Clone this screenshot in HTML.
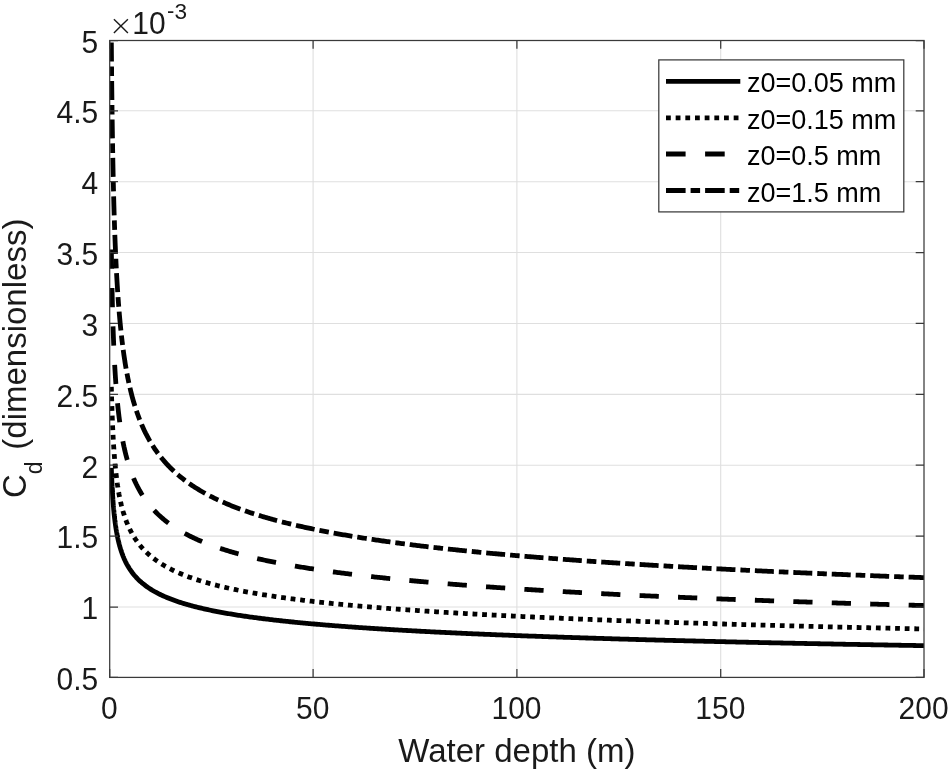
<!DOCTYPE html>
<html><head><meta charset="utf-8"><title>Cd vs water depth</title>
<style>html,body{margin:0;padding:0;background:#fff;}body{width:950px;height:772px;position:relative;overflow:hidden;}</style>
</head><body>
<svg width="950" height="772" viewBox="0 0 950 772" style="position:absolute;left:0;top:0">
<defs><clipPath id="ax"><rect x="109.7" y="39.9" width="814.30" height="637.50"/></clipPath></defs>
<path d="M313.10 40.50V677.40M516.90 40.50V677.40M720.70 40.50V677.40M109.70 607.01H924.00M109.70 536.12H924.00M109.70 465.23H924.00M109.70 394.34H924.00M109.70 323.46H924.00M109.70 252.57H924.00M109.70 181.68H924.00M109.70 110.79H924.00" stroke="#dfdfdf" stroke-width="1.1" fill="none"/>
<polyline clip-path="url(#ax)" points="111.34,467.84 111.35,468.31 111.37,468.78 111.39,469.25 111.40,469.71 111.42,470.18 111.43,470.64 111.45,471.10 111.47,471.56 111.48,472.02 111.50,472.48 111.52,472.94 111.54,473.40 111.55,473.85 111.57,474.31 111.59,474.76 111.61,475.21 111.62,475.66 111.64,476.11 111.66,476.56 111.68,477.01 111.70,477.45 111.71,477.90 111.73,478.34 111.75,478.79 111.77,479.23 111.79,479.67 111.81,480.11 111.83,480.55 111.85,480.99 111.87,481.42 111.89,481.86 111.91,482.29 111.93,482.73 111.95,483.16 111.97,483.59 111.99,484.02 112.01,484.45 112.03,484.88 112.05,485.31 112.07,485.73 112.09,486.16 112.12,486.58 112.14,487.00 112.16,487.43 112.18,487.85 112.20,488.27 112.23,488.69 112.25,489.10 112.27,489.52 112.30,489.94 112.32,490.35 112.34,490.77 112.37,491.18 112.39,491.59 112.41,492.00 112.44,492.41 112.46,492.82 112.49,493.23 112.51,493.64 112.53,494.04 112.56,494.45 112.59,494.85 112.61,495.26 112.64,495.66 112.66,496.06 112.69,496.46 112.71,496.86 112.74,497.26 112.77,497.65 112.79,498.05 112.82,498.45 112.85,498.84 112.88,499.24 112.90,499.63 112.93,500.02 112.96,500.41 112.99,500.80 113.02,501.19 113.04,501.58 113.07,501.97 113.10,502.35 113.13,502.74 113.16,503.12 113.19,503.51 113.22,503.89 113.25,504.27 113.28,504.65 113.31,505.03 113.34,505.41 113.38,505.79 113.41,506.17 113.44,506.54 113.47,506.92 113.50,507.29 113.54,507.67 113.57,508.04 113.60,508.41 113.63,508.78 113.67,509.16 113.70,509.53 113.74,509.89 113.77,510.26 113.80,510.63 113.84,511.00 113.87,511.36 113.91,511.73 113.95,512.09 113.98,512.45 114.02,512.81 114.05,513.18 114.09,513.54 114.13,513.90 114.17,514.25 114.20,514.61 114.24,514.97 114.28,515.33 114.32,515.68 114.36,516.04 114.40,516.39 114.44,516.74 114.47,517.09 114.51,517.45 114.56,517.80 114.60,518.15 114.64,518.50 114.68,518.84 114.72,519.19 114.76,519.54 114.80,519.88 114.85,520.23 114.89,520.57 114.93,520.92 114.98,521.26 115.02,521.60 115.06,521.94 115.11,522.28 115.15,522.62 115.20,522.96 115.24,523.30 115.29,523.64 115.34,523.97 115.38,524.31 115.43,524.65 115.48,524.98 115.53,525.31 115.57,525.65 115.62,525.98 115.67,526.31 115.72,526.64 115.77,526.97 115.82,527.30 115.87,527.63 115.92,527.96 115.97,528.28 116.02,528.61 116.08,528.94 116.13,529.26 116.18,529.58 116.23,529.91 116.29,530.23 116.34,530.55 116.40,530.87 116.45,531.19 116.51,531.51 116.56,531.83 116.62,532.15 116.67,532.47 116.73,532.79 116.79,533.10 116.85,533.42 116.91,533.73 116.96,534.05 117.02,534.36 117.08,534.67 117.14,534.99 117.20,535.30 117.26,535.61 117.33,535.92 117.39,536.23 117.45,536.54 117.51,536.85 117.58,537.15 117.64,537.46 117.71,537.77 117.77,538.07 117.84,538.38 117.90,538.68 117.97,538.98 118.04,539.29 118.10,539.59 118.17,539.89 118.24,540.19 118.31,540.49 118.38,540.79 118.45,541.09 118.52,541.39 118.59,541.69 118.66,541.98 118.74,542.28 118.81,542.58 118.88,542.87 118.96,543.17 119.03,543.46 119.11,543.75 119.18,544.05 119.26,544.34 119.33,544.63 119.41,544.92 119.49,545.21 119.57,545.50 119.65,545.79 119.73,546.08 119.81,546.36 119.89,546.65 119.97,546.94 120.06,547.22 120.14,547.51 120.22,547.79 120.31,548.08 120.39,548.36 120.48,548.64 120.56,548.92 120.65,549.21 120.74,549.49 120.83,549.77 120.92,550.05 121.01,550.33 121.10,550.61 121.19,550.88 121.28,551.16 121.37,551.44 121.47,551.71 121.56,551.99 121.65,552.27 121.75,552.54 121.85,552.81 121.94,553.09 122.04,553.36 122.14,553.63 122.24,553.90 122.34,554.18 122.44,554.45 122.54,554.72 122.64,554.99 122.75,555.25 122.85,555.52 122.95,555.79 123.06,556.06 123.17,556.32 123.27,556.59 123.38,556.86 123.49,557.12 123.60,557.39 123.71,557.65 123.82,557.91 123.93,558.18 124.05,558.44 124.16,558.70 124.28,558.96 124.39,559.22 124.51,559.48 124.63,559.74 124.75,560.00 124.86,560.26 124.99,560.52 125.11,560.77 125.23,561.03 125.35,561.29 125.48,561.54 125.60,561.80 125.73,562.05 125.85,562.31 125.98,562.56 126.11,562.81 126.24,563.07 126.37,563.32 126.50,563.57 126.64,563.82 126.77,564.07 126.91,564.32 127.04,564.57 127.18,564.82 127.32,565.07 127.46,565.32 127.60,565.57 127.74,565.81 127.88,566.06 128.02,566.31 128.17,566.55 128.32,566.80 128.46,567.04 128.61,567.29 128.76,567.53 128.91,567.77 129.06,568.02 129.21,568.26 129.37,568.50 129.52,568.74 129.68,568.98 131.01,570.94 132.33,572.75 133.66,574.43 134.99,576.00 136.31,577.47 137.64,578.86 138.97,580.16 140.30,581.40 141.62,582.57 142.95,583.68 144.28,584.74 145.60,585.75 146.93,586.71 148.26,587.63 149.58,588.52 150.91,589.36 152.24,590.18 153.56,590.96 154.89,591.72 156.22,592.45 157.55,593.15 158.87,593.83 160.20,594.49 161.53,595.13 162.85,595.75 164.18,596.34 165.51,596.93 166.83,597.49 168.16,598.04 169.49,598.57 170.81,599.09 172.14,599.59 173.47,600.09 174.79,600.57 176.12,601.03 177.45,601.49 178.78,601.94 180.10,602.37 181.43,602.80 182.76,603.21 184.08,603.62 185.41,604.02 186.74,604.41 188.06,604.79 189.39,605.16 190.72,605.53 192.04,605.88 193.37,606.24 194.70,606.58 196.03,606.92 197.35,607.25 198.68,607.58 200.01,607.90 201.33,608.21 202.66,608.52 203.99,608.82 205.31,609.12 206.64,609.41 207.97,609.70 209.29,609.98 210.62,610.26 211.95,610.54 213.28,610.81 214.60,611.07 215.93,611.34 217.26,611.59 218.58,611.85 219.91,612.10 221.24,612.34 222.56,612.59 223.89,612.83 225.22,613.06 226.54,613.30 227.87,613.53 229.20,613.75 230.53,613.98 231.85,614.20 233.18,614.41 234.51,614.63 235.83,614.84 237.16,615.05 238.49,615.26 239.81,615.46 241.14,615.66 242.47,615.86 243.79,616.06 245.12,616.25 246.45,616.44 247.78,616.63 249.10,616.82 250.43,617.01 251.76,617.19 253.08,617.37 254.41,617.55 255.74,617.73 257.06,617.90 258.39,618.08 259.72,618.25 261.04,618.42 262.37,618.58 263.70,618.75 265.02,618.91 266.35,619.08 267.68,619.24 269.01,619.40 270.33,619.55 271.66,619.71 272.99,619.87 274.31,620.02 275.64,620.17 276.97,620.32 278.29,620.47 279.62,620.62 280.95,620.76 282.27,620.91 283.60,621.05 284.93,621.19 286.26,621.33 287.58,621.47 288.91,621.61 290.24,621.74 291.56,621.88 292.89,622.01 294.22,622.15 295.54,622.28 296.87,622.41 298.20,622.54 299.52,622.67 300.85,622.80 302.18,622.92 303.51,623.05 304.83,623.17 306.16,623.29 307.49,623.42 308.81,623.54 310.14,623.66 311.47,623.78 312.79,623.90 314.12,624.01 315.45,624.13 316.77,624.25 318.10,624.36 319.43,624.47 320.76,624.59 322.08,624.70 323.41,624.81 324.74,624.92 326.06,625.03 327.39,625.14 328.72,625.25 330.04,625.35 331.37,625.46 332.70,625.57 334.02,625.67 335.35,625.78 336.68,625.88 338.01,625.98 339.33,626.08 340.66,626.18 341.99,626.29 343.31,626.39 344.64,626.48 345.97,626.58 347.29,626.68 348.62,626.78 349.95,626.87 351.27,626.97 352.60,627.07 353.93,627.16 355.25,627.25 356.58,627.35 357.91,627.44 359.24,627.53 360.56,627.62 361.89,627.71 363.22,627.80 364.54,627.89 365.87,627.98 367.20,628.07 368.52,628.16 369.85,628.25 371.18,628.34 372.50,628.42 373.83,628.51 375.16,628.59 376.49,628.68 377.81,628.76 379.14,628.85 380.47,628.93 381.79,629.01 383.12,629.10 384.45,629.18 385.77,629.26 387.10,629.34 388.43,629.42 389.75,629.50 391.08,629.58 392.41,629.66 393.74,629.74 395.06,629.82 396.39,629.89 397.72,629.97 399.04,630.05 400.37,630.13 401.70,630.20 403.02,630.28 404.35,630.35 405.68,630.43 407.00,630.50 408.33,630.58 409.66,630.65 410.99,630.72 412.31,630.80 413.64,630.87 414.97,630.94 416.29,631.01 417.62,631.08 418.95,631.15 420.27,631.23 421.60,631.30 422.93,631.37 424.25,631.44 425.58,631.50 426.91,631.57 428.24,631.64 429.56,631.71 430.89,631.78 432.22,631.85 433.54,631.91 434.87,631.98 436.20,632.05 437.52,632.11 438.85,632.18 440.18,632.24 441.50,632.31 442.83,632.37 444.16,632.44 445.48,632.50 446.81,632.57 448.14,632.63 449.47,632.69 450.79,632.76 452.12,632.82 453.45,632.88 454.77,632.94 456.10,633.01 457.43,633.07 458.75,633.13 460.08,633.19 461.41,633.25 462.73,633.31 464.06,633.37 465.39,633.43 466.72,633.49 468.04,633.55 469.37,633.61 470.70,633.67 472.02,633.73 473.35,633.78 474.68,633.84 476.00,633.90 477.33,633.96 478.66,634.02 479.98,634.07 481.31,634.13 482.64,634.19 483.97,634.24 485.29,634.30 486.62,634.35 487.95,634.41 489.27,634.47 490.60,634.52 491.93,634.58 493.25,634.63 494.58,634.69 495.91,634.74 497.23,634.79 498.56,634.85 499.89,634.90 501.22,634.95 502.54,635.01 503.87,635.06 505.20,635.11 506.52,635.17 507.85,635.22 509.18,635.27 510.50,635.32 511.83,635.37 513.16,635.43 514.48,635.48 515.81,635.53 517.14,635.58 518.47,635.63 519.79,635.68 521.12,635.73 522.45,635.78 523.77,635.83 525.10,635.88 526.43,635.93 527.75,635.98 529.08,636.03 530.41,636.08 531.73,636.13 533.06,636.17 534.39,636.22 535.71,636.27 537.04,636.32 538.37,636.37 539.70,636.41 541.02,636.46 542.35,636.51 543.68,636.56 545.00,636.60 546.33,636.65 547.66,636.70 548.98,636.74 550.31,636.79 551.64,636.84 552.96,636.88 554.29,636.93 555.62,636.97 556.95,637.02 558.27,637.06 559.60,637.11 560.93,637.15 562.25,637.20 563.58,637.24 564.91,637.29 566.23,637.33 567.56,637.38 568.89,637.42 570.21,637.46 571.54,637.51 572.87,637.55 574.20,637.59 575.52,637.64 576.85,637.68 578.18,637.72 579.50,637.77 580.83,637.81 582.16,637.85 583.48,637.89 584.81,637.94 586.14,637.98 587.46,638.02 588.79,638.06 590.12,638.10 591.45,638.15 592.77,638.19 594.10,638.23 595.43,638.27 596.75,638.31 598.08,638.35 599.41,638.39 600.73,638.43 602.06,638.47 603.39,638.51 604.71,638.55 606.04,638.59 607.37,638.63 608.70,638.67 610.02,638.71 611.35,638.75 612.68,638.79 614.00,638.83 615.33,638.87 616.66,638.91 617.98,638.95 619.31,638.99 620.64,639.03 621.96,639.07 623.29,639.10 624.62,639.14 625.94,639.18 627.27,639.22 628.60,639.26 629.93,639.29 631.25,639.33 632.58,639.37 633.91,639.41 635.23,639.44 636.56,639.48 637.89,639.52 639.21,639.56 640.54,639.59 641.87,639.63 643.19,639.67 644.52,639.70 645.85,639.74 647.18,639.78 648.50,639.81 649.83,639.85 651.16,639.89 652.48,639.92 653.81,639.96 655.14,639.99 656.46,640.03 657.79,640.06 659.12,640.10 660.44,640.14 661.77,640.17 663.10,640.21 664.43,640.24 665.75,640.28 667.08,640.31 668.41,640.35 669.73,640.38 671.06,640.41 672.39,640.45 673.71,640.48 675.04,640.52 676.37,640.55 677.69,640.59 679.02,640.62 680.35,640.65 681.68,640.69 683.00,640.72 684.33,640.76 685.66,640.79 686.98,640.82 688.31,640.86 689.64,640.89 690.96,640.92 692.29,640.95 693.62,640.99 694.94,641.02 696.27,641.05 697.60,641.09 698.93,641.12 700.25,641.15 701.58,641.18 702.91,641.22 704.23,641.25 705.56,641.28 706.89,641.31 708.21,641.34 709.54,641.38 710.87,641.41 712.19,641.44 713.52,641.47 714.85,641.50 716.17,641.53 717.50,641.57 718.83,641.60 720.16,641.63 721.48,641.66 722.81,641.69 724.14,641.72 725.46,641.75 726.79,641.78 728.12,641.81 729.44,641.85 730.77,641.88 732.10,641.91 733.42,641.94 734.75,641.97 736.08,642.00 737.41,642.03 738.73,642.06 740.06,642.09 741.39,642.12 742.71,642.15 744.04,642.18 745.37,642.21 746.69,642.24 748.02,642.27 749.35,642.30 750.67,642.33 752.00,642.36 753.33,642.38 754.66,642.41 755.98,642.44 757.31,642.47 758.64,642.50 759.96,642.53 761.29,642.56 762.62,642.59 763.94,642.62 765.27,642.65 766.60,642.67 767.92,642.70 769.25,642.73 770.58,642.76 771.91,642.79 773.23,642.82 774.56,642.84 775.89,642.87 777.21,642.90 778.54,642.93 779.87,642.96 781.19,642.98 782.52,643.01 783.85,643.04 785.17,643.07 786.50,643.10 787.83,643.12 789.16,643.15 790.48,643.18 791.81,643.21 793.14,643.23 794.46,643.26 795.79,643.29 797.12,643.31 798.44,643.34 799.77,643.37 801.10,643.40 802.42,643.42 803.75,643.45 805.08,643.48 806.40,643.50 807.73,643.53 809.06,643.56 810.39,643.58 811.71,643.61 813.04,643.63 814.37,643.66 815.69,643.69 817.02,643.71 818.35,643.74 819.67,643.77 821.00,643.79 822.33,643.82 823.65,643.84 824.98,643.87 826.31,643.90 827.64,643.92 828.96,643.95 830.29,643.97 831.62,644.00 832.94,644.02 834.27,644.05 835.60,644.07 836.92,644.10 838.25,644.12 839.58,644.15 840.90,644.17 842.23,644.20 843.56,644.23 844.89,644.25 846.21,644.28 847.54,644.30 848.87,644.32 850.19,644.35 851.52,644.37 852.85,644.40 854.17,644.42 855.50,644.45 856.83,644.47 858.15,644.50 859.48,644.52 860.81,644.55 862.14,644.57 863.46,644.59 864.79,644.62 866.12,644.64 867.44,644.67 868.77,644.69 870.10,644.72 871.42,644.74 872.75,644.76 874.08,644.79 875.40,644.81 876.73,644.83 878.06,644.86 879.39,644.88 880.71,644.91 882.04,644.93 883.37,644.95 884.69,644.98 886.02,645.00 887.35,645.02 888.67,645.05 890.00,645.07 891.33,645.09 892.65,645.12 893.98,645.14 895.31,645.16 896.63,645.19 897.96,645.21 899.29,645.23 900.62,645.25 901.94,645.28 903.27,645.30 904.60,645.32 905.92,645.35 907.25,645.37 908.58,645.39 909.90,645.41 911.23,645.44 912.56,645.46 913.88,645.48 915.21,645.50 916.54,645.53 917.87,645.55 919.19,645.57 920.52,645.59 921.85,645.61 923.17,645.64 924.50,645.66" fill="none" stroke="#000" stroke-width="4.8" stroke-linejoin="round"/>
<polyline clip-path="url(#ax)" points="111.34,386.59 111.35,387.28 111.37,387.96 111.39,388.64 111.40,389.32 111.42,390.00 111.43,390.68 111.45,391.35 111.47,392.03 111.48,392.70 111.50,393.37 111.52,394.04 111.54,394.70 111.55,395.37 111.57,396.03 111.59,396.69 111.61,397.35 111.62,398.00 111.64,398.66 111.66,399.31 111.68,399.96 111.70,400.61 111.71,401.26 111.73,401.90 111.75,402.55 111.77,403.19 111.79,403.83 111.81,404.47 111.83,405.10 111.85,405.74 111.87,406.37 111.89,407.00 111.91,407.63 111.93,408.26 111.95,408.89 111.97,409.51 111.99,410.13 112.01,410.75 112.03,411.37 112.05,411.99 112.07,412.61 112.09,413.22 112.12,413.83 112.14,414.44 112.16,415.05 112.18,415.66 112.20,416.27 112.23,416.87 112.25,417.47 112.27,418.07 112.30,418.67 112.32,419.27 112.34,419.87 112.37,420.46 112.39,421.05 112.41,421.64 112.44,422.23 112.46,422.82 112.49,423.41 112.51,423.99 112.53,424.58 112.56,425.16 112.59,425.74 112.61,426.32 112.64,426.89 112.66,427.47 112.69,428.04 112.71,428.61 112.74,429.19 112.77,429.75 112.79,430.32 112.82,430.89 112.85,431.45 112.88,432.02 112.90,432.58 112.93,433.14 112.96,433.70 112.99,434.25 113.02,434.81 113.04,435.36 113.07,435.92 113.10,436.47 113.13,437.02 113.16,437.57 113.19,438.11 113.22,438.66 113.25,439.20 113.28,439.75 113.31,440.29 113.34,440.83 113.38,441.37 113.41,441.90 113.44,442.44 113.47,442.97 113.50,443.51 113.54,444.04 113.57,444.57 113.60,445.10 113.63,445.62 113.67,446.15 113.70,446.67 113.74,447.20 113.77,447.72 113.80,448.24 113.84,448.76 113.87,449.28 113.91,449.79 113.95,450.31 113.98,450.82 114.02,451.33 114.05,451.85 114.09,452.36 114.13,452.86 114.17,453.37 114.20,453.88 114.24,454.38 114.28,454.89 114.32,455.39 114.36,455.89 114.40,456.39 114.44,456.89 114.47,457.38 114.51,457.88 114.56,458.37 114.60,458.87 114.64,459.36 114.68,459.85 114.72,460.34 114.76,460.83 114.80,461.31 114.85,461.80 114.89,462.28 114.93,462.77 114.98,463.25 115.02,463.73 115.06,464.21 115.11,464.69 115.15,465.16 115.20,465.64 115.24,466.11 115.29,466.59 115.34,467.06 115.38,467.53 115.43,468.00 115.48,468.47 115.53,468.94 115.57,469.40 115.62,469.87 115.67,470.33 115.72,470.80 115.77,471.26 115.82,471.72 115.87,472.18 115.92,472.64 115.97,473.09 116.02,473.55 116.08,474.01 116.13,474.46 116.18,474.91 116.23,475.36 116.29,475.81 116.34,476.26 116.40,476.71 116.45,477.16 116.51,477.61 116.56,478.05 116.62,478.49 116.67,478.94 116.73,479.38 116.79,479.82 116.85,480.26 116.91,480.70 116.96,481.14 117.02,481.57 117.08,482.01 117.14,482.44 117.20,482.87 117.26,483.31 117.33,483.74 117.39,484.17 117.45,484.60 117.51,485.02 117.58,485.45 117.64,485.88 117.71,486.30 117.77,486.73 117.84,487.15 117.90,487.57 117.97,487.99 118.04,488.41 118.10,488.83 118.17,489.25 118.24,489.66 118.31,490.08 118.38,490.49 118.45,490.91 118.52,491.32 118.59,491.73 118.66,492.14 118.74,492.55 118.81,492.96 118.88,493.37 118.96,493.78 119.03,494.18 119.11,494.59 119.18,494.99 119.26,495.39 119.33,495.79 119.41,496.20 119.49,496.60 119.57,496.99 119.65,497.39 119.73,497.79 119.81,498.19 119.89,498.58 119.97,498.98 120.06,499.37 120.14,499.76 120.22,500.15 120.31,500.54 120.39,500.93 120.48,501.32 120.56,501.71 120.65,502.10 120.74,502.48 120.83,502.87 120.92,503.25 121.01,503.64 121.10,504.02 121.19,504.40 121.28,504.78 121.37,505.16 121.47,505.54 121.56,505.92 121.65,506.30 121.75,506.67 121.85,507.05 121.94,507.42 122.04,507.80 122.14,508.17 122.24,508.54 122.34,508.91 122.44,509.28 122.54,509.65 122.64,510.02 122.75,510.39 122.85,510.75 122.95,511.12 123.06,511.49 123.17,511.85 123.27,512.21 123.38,512.58 123.49,512.94 123.60,513.30 123.71,513.66 123.82,514.02 123.93,514.38 124.05,514.73 124.16,515.09 124.28,515.45 124.39,515.80 124.51,516.16 124.63,516.51 124.75,516.86 124.86,517.21 124.99,517.57 125.11,517.92 125.23,518.27 125.35,518.61 125.48,518.96 125.60,519.31 125.73,519.66 125.85,520.00 125.98,520.35 126.11,520.69 126.24,521.03 126.37,521.38 126.50,521.72 126.64,522.06 126.77,522.40 126.91,522.74 127.04,523.08 127.18,523.42 127.32,523.75 127.46,524.09 127.60,524.42 127.74,524.76 127.88,525.09 128.02,525.43 128.17,525.76 128.32,526.09 128.46,526.42 128.61,526.75 128.76,527.08 128.91,527.41 129.06,527.74 129.21,528.07 129.37,528.39 129.52,528.72 129.68,529.05 131.01,531.68 132.33,534.12 133.66,536.39 134.99,538.50 136.31,540.47 137.64,542.33 138.97,544.08 140.30,545.73 141.62,547.29 142.95,548.77 144.28,550.18 145.60,551.52 146.93,552.81 148.26,554.03 149.58,555.21 150.91,556.33 152.24,557.41 153.56,558.45 154.89,559.45 156.22,560.42 157.55,561.35 158.87,562.25 160.20,563.12 161.53,563.96 162.85,564.77 164.18,565.56 165.51,566.33 166.83,567.07 168.16,567.79 169.49,568.49 170.81,569.17 172.14,569.84 173.47,570.48 174.79,571.11 176.12,571.73 177.45,572.33 178.78,572.91 180.10,573.48 181.43,574.04 182.76,574.58 184.08,575.11 185.41,575.63 186.74,576.14 188.06,576.64 189.39,577.13 190.72,577.61 192.04,578.07 193.37,578.53 194.70,578.98 196.03,579.42 197.35,579.86 198.68,580.28 200.01,580.70 201.33,581.11 202.66,581.51 203.99,581.90 205.31,582.29 206.64,582.67 207.97,583.05 209.29,583.42 210.62,583.78 211.95,584.14 213.28,584.49 214.60,584.83 215.93,585.17 217.26,585.51 218.58,585.84 219.91,586.16 221.24,586.48 222.56,586.80 223.89,587.11 225.22,587.41 226.54,587.72 227.87,588.01 229.20,588.31 230.53,588.60 231.85,588.88 233.18,589.16 234.51,589.44 235.83,589.72 237.16,589.99 238.49,590.25 239.81,590.52 241.14,590.78 242.47,591.04 243.79,591.29 245.12,591.54 246.45,591.79 247.78,592.04 249.10,592.28 250.43,592.52 251.76,592.75 253.08,592.99 254.41,593.22 255.74,593.45 257.06,593.67 258.39,593.90 259.72,594.12 261.04,594.34 262.37,594.55 263.70,594.77 265.02,594.98 266.35,595.19 267.68,595.39 269.01,595.60 270.33,595.80 271.66,596.00 272.99,596.20 274.31,596.40 275.64,596.59 276.97,596.79 278.29,596.98 279.62,597.17 280.95,597.36 282.27,597.54 283.60,597.73 284.93,597.91 286.26,598.09 287.58,598.27 288.91,598.44 290.24,598.62 291.56,598.79 292.89,598.97 294.22,599.14 295.54,599.31 296.87,599.48 298.20,599.64 299.52,599.81 300.85,599.97 302.18,600.13 303.51,600.29 304.83,600.45 306.16,600.61 307.49,600.77 308.81,600.92 310.14,601.08 311.47,601.23 312.79,601.38 314.12,601.53 315.45,601.68 316.77,601.83 318.10,601.98 319.43,602.12 320.76,602.27 322.08,602.41 323.41,602.55 324.74,602.70 326.06,602.84 327.39,602.98 328.72,603.11 330.04,603.25 331.37,603.39 332.70,603.52 334.02,603.66 335.35,603.79 336.68,603.92 338.01,604.05 339.33,604.18 340.66,604.31 341.99,604.44 343.31,604.57 344.64,604.70 345.97,604.82 347.29,604.95 348.62,605.07 349.95,605.20 351.27,605.32 352.60,605.44 353.93,605.56 355.25,605.68 356.58,605.80 357.91,605.92 359.24,606.04 360.56,606.15 361.89,606.27 363.22,606.38 364.54,606.50 365.87,606.61 367.20,606.73 368.52,606.84 369.85,606.95 371.18,607.06 372.50,607.17 373.83,607.28 375.16,607.39 376.49,607.50 377.81,607.61 379.14,607.71 380.47,607.82 381.79,607.93 383.12,608.03 384.45,608.14 385.77,608.24 387.10,608.34 388.43,608.45 389.75,608.55 391.08,608.65 392.41,608.75 393.74,608.85 395.06,608.95 396.39,609.05 397.72,609.15 399.04,609.25 400.37,609.34 401.70,609.44 403.02,609.54 404.35,609.63 405.68,609.73 407.00,609.82 408.33,609.92 409.66,610.01 410.99,610.10 412.31,610.20 413.64,610.29 414.97,610.38 416.29,610.47 417.62,610.56 418.95,610.65 420.27,610.74 421.60,610.83 422.93,610.92 424.25,611.01 425.58,611.10 426.91,611.19 428.24,611.27 429.56,611.36 430.89,611.45 432.22,611.53 433.54,611.62 434.87,611.70 436.20,611.79 437.52,611.87 438.85,611.96 440.18,612.04 441.50,612.12 442.83,612.20 444.16,612.29 445.48,612.37 446.81,612.45 448.14,612.53 449.47,612.61 450.79,612.69 452.12,612.77 453.45,612.85 454.77,612.93 456.10,613.01 457.43,613.09 458.75,613.16 460.08,613.24 461.41,613.32 462.73,613.39 464.06,613.47 465.39,613.55 466.72,613.62 468.04,613.70 469.37,613.77 470.70,613.85 472.02,613.92 473.35,614.00 474.68,614.07 476.00,614.14 477.33,614.22 478.66,614.29 479.98,614.36 481.31,614.43 482.64,614.51 483.97,614.58 485.29,614.65 486.62,614.72 487.95,614.79 489.27,614.86 490.60,614.93 491.93,615.00 493.25,615.07 494.58,615.14 495.91,615.21 497.23,615.28 498.56,615.34 499.89,615.41 501.22,615.48 502.54,615.55 503.87,615.61 505.20,615.68 506.52,615.75 507.85,615.81 509.18,615.88 510.50,615.95 511.83,616.01 513.16,616.08 514.48,616.14 515.81,616.21 517.14,616.27 518.47,616.33 519.79,616.40 521.12,616.46 522.45,616.53 523.77,616.59 525.10,616.65 526.43,616.71 527.75,616.78 529.08,616.84 530.41,616.90 531.73,616.96 533.06,617.02 534.39,617.09 535.71,617.15 537.04,617.21 538.37,617.27 539.70,617.33 541.02,617.39 542.35,617.45 543.68,617.51 545.00,617.57 546.33,617.63 547.66,617.68 548.98,617.74 550.31,617.80 551.64,617.86 552.96,617.92 554.29,617.98 555.62,618.03 556.95,618.09 558.27,618.15 559.60,618.21 560.93,618.26 562.25,618.32 563.58,618.38 564.91,618.43 566.23,618.49 567.56,618.54 568.89,618.60 570.21,618.66 571.54,618.71 572.87,618.77 574.20,618.82 575.52,618.88 576.85,618.93 578.18,618.98 579.50,619.04 580.83,619.09 582.16,619.15 583.48,619.20 584.81,619.25 586.14,619.31 587.46,619.36 588.79,619.41 590.12,619.46 591.45,619.52 592.77,619.57 594.10,619.62 595.43,619.67 596.75,619.73 598.08,619.78 599.41,619.83 600.73,619.88 602.06,619.93 603.39,619.98 604.71,620.03 606.04,620.08 607.37,620.13 608.70,620.18 610.02,620.23 611.35,620.28 612.68,620.33 614.00,620.38 615.33,620.43 616.66,620.48 617.98,620.53 619.31,620.58 620.64,620.63 621.96,620.68 623.29,620.73 624.62,620.77 625.94,620.82 627.27,620.87 628.60,620.92 629.93,620.97 631.25,621.01 632.58,621.06 633.91,621.11 635.23,621.16 636.56,621.20 637.89,621.25 639.21,621.30 640.54,621.34 641.87,621.39 643.19,621.44 644.52,621.48 645.85,621.53 647.18,621.57 648.50,621.62 649.83,621.67 651.16,621.71 652.48,621.76 653.81,621.80 655.14,621.85 656.46,621.89 657.79,621.94 659.12,621.98 660.44,622.03 661.77,622.07 663.10,622.12 664.43,622.16 665.75,622.20 667.08,622.25 668.41,622.29 669.73,622.34 671.06,622.38 672.39,622.42 673.71,622.47 675.04,622.51 676.37,622.55 677.69,622.59 679.02,622.64 680.35,622.68 681.68,622.72 683.00,622.77 684.33,622.81 685.66,622.85 686.98,622.89 688.31,622.93 689.64,622.98 690.96,623.02 692.29,623.06 693.62,623.10 694.94,623.14 696.27,623.18 697.60,623.22 698.93,623.27 700.25,623.31 701.58,623.35 702.91,623.39 704.23,623.43 705.56,623.47 706.89,623.51 708.21,623.55 709.54,623.59 710.87,623.63 712.19,623.67 713.52,623.71 714.85,623.75 716.17,623.79 717.50,623.83 718.83,623.87 720.16,623.91 721.48,623.95 722.81,623.99 724.14,624.02 725.46,624.06 726.79,624.10 728.12,624.14 729.44,624.18 730.77,624.22 732.10,624.26 733.42,624.30 734.75,624.33 736.08,624.37 737.41,624.41 738.73,624.45 740.06,624.49 741.39,624.52 742.71,624.56 744.04,624.60 745.37,624.64 746.69,624.67 748.02,624.71 749.35,624.75 750.67,624.78 752.00,624.82 753.33,624.86 754.66,624.89 755.98,624.93 757.31,624.97 758.64,625.00 759.96,625.04 761.29,625.08 762.62,625.11 763.94,625.15 765.27,625.19 766.60,625.22 767.92,625.26 769.25,625.29 770.58,625.33 771.91,625.36 773.23,625.40 774.56,625.44 775.89,625.47 777.21,625.51 778.54,625.54 779.87,625.58 781.19,625.61 782.52,625.65 783.85,625.68 785.17,625.72 786.50,625.75 787.83,625.79 789.16,625.82 790.48,625.85 791.81,625.89 793.14,625.92 794.46,625.96 795.79,625.99 797.12,626.03 798.44,626.06 799.77,626.09 801.10,626.13 802.42,626.16 803.75,626.19 805.08,626.23 806.40,626.26 807.73,626.29 809.06,626.33 810.39,626.36 811.71,626.39 813.04,626.43 814.37,626.46 815.69,626.49 817.02,626.53 818.35,626.56 819.67,626.59 821.00,626.62 822.33,626.66 823.65,626.69 824.98,626.72 826.31,626.75 827.64,626.79 828.96,626.82 830.29,626.85 831.62,626.88 832.94,626.92 834.27,626.95 835.60,626.98 836.92,627.01 838.25,627.04 839.58,627.07 840.90,627.11 842.23,627.14 843.56,627.17 844.89,627.20 846.21,627.23 847.54,627.26 848.87,627.29 850.19,627.32 851.52,627.36 852.85,627.39 854.17,627.42 855.50,627.45 856.83,627.48 858.15,627.51 859.48,627.54 860.81,627.57 862.14,627.60 863.46,627.63 864.79,627.66 866.12,627.69 867.44,627.72 868.77,627.75 870.10,627.78 871.42,627.81 872.75,627.84 874.08,627.87 875.40,627.90 876.73,627.93 878.06,627.96 879.39,627.99 880.71,628.02 882.04,628.05 883.37,628.08 884.69,628.11 886.02,628.14 887.35,628.17 888.67,628.20 890.00,628.23 891.33,628.26 892.65,628.29 893.98,628.31 895.31,628.34 896.63,628.37 897.96,628.40 899.29,628.43 900.62,628.46 901.94,628.49 903.27,628.52 904.60,628.54 905.92,628.57 907.25,628.60 908.58,628.63 909.90,628.66 911.23,628.69 912.56,628.71 913.88,628.74 915.21,628.77 916.54,628.80 917.87,628.83 919.19,628.85 920.52,628.88 921.85,628.91 923.17,628.94 924.50,628.97" fill="none" stroke="#000" stroke-width="4.8" stroke-linejoin="round" stroke-dasharray="4.8 4.81" stroke-dashoffset="-0.29"/>
<polyline clip-path="url(#ax)" points="111.34,249.33 111.35,250.44 111.37,251.55 111.39,252.65 111.40,253.75 111.42,254.85 111.43,255.94 111.45,257.03 111.47,258.12 111.48,259.20 111.50,260.28 111.52,261.36 111.54,262.43 111.55,263.50 111.57,264.56 111.59,265.62 111.61,266.68 111.62,267.73 111.64,268.79 111.66,269.83 111.68,270.88 111.70,271.92 111.71,272.95 111.73,273.99 111.75,275.02 111.77,276.05 111.79,277.07 111.81,278.09 111.83,279.11 111.85,280.12 111.87,281.13 111.89,282.14 111.91,283.14 111.93,284.14 111.95,285.14 111.97,286.14 111.99,287.13 112.01,288.12 112.03,289.10 112.05,290.08 112.07,291.06 112.09,292.04 112.12,293.01 112.14,293.98 112.16,294.94 112.18,295.91 112.20,296.87 112.23,297.82 112.25,298.78 112.27,299.73 112.30,300.68 112.32,301.62 112.34,302.56 112.37,303.50 112.39,304.44 112.41,305.37 112.44,306.30 112.46,307.23 112.49,308.15 112.51,309.07 112.53,309.99 112.56,310.91 112.59,311.82 112.61,312.73 112.64,313.64 112.66,314.54 112.69,315.44 112.71,316.34 112.74,317.24 112.77,318.13 112.79,319.02 112.82,319.91 112.85,320.79 112.88,321.68 112.90,322.55 112.93,323.43 112.96,324.31 112.99,325.18 113.02,326.04 113.04,326.91 113.07,327.77 113.10,328.63 113.13,329.49 113.16,330.35 113.19,331.20 113.22,332.05 113.25,332.90 113.28,333.74 113.31,334.58 113.34,335.42 113.38,336.26 113.41,337.10 113.44,337.93 113.47,338.76 113.50,339.59 113.54,340.41 113.57,341.23 113.60,342.05 113.63,342.87 113.67,343.68 113.70,344.50 113.74,345.31 113.77,346.11 113.80,346.92 113.84,347.72 113.87,348.52 113.91,349.32 113.95,350.11 113.98,350.91 114.02,351.70 114.05,352.49 114.09,353.27 114.13,354.05 114.17,354.84 114.20,355.62 114.24,356.39 114.28,357.17 114.32,357.94 114.36,358.71 114.40,359.48 114.44,360.24 114.47,361.00 114.51,361.76 114.56,362.52 114.60,363.28 114.64,364.03 114.68,364.79 114.72,365.53 114.76,366.28 114.80,367.03 114.85,367.77 114.89,368.51 114.93,369.25 114.98,369.99 115.02,370.72 115.06,371.45 115.11,372.18 115.15,372.91 115.20,373.64 115.24,374.36 115.29,375.08 115.34,375.80 115.38,376.52 115.43,377.24 115.48,377.95 115.53,378.66 115.57,379.37 115.62,380.08 115.67,380.78 115.72,381.49 115.77,382.19 115.82,382.89 115.87,383.58 115.92,384.28 115.97,384.97 116.02,385.66 116.08,386.35 116.13,387.04 116.18,387.73 116.23,388.41 116.29,389.09 116.34,389.77 116.40,390.45 116.45,391.12 116.51,391.80 116.56,392.47 116.62,393.14 116.67,393.81 116.73,394.48 116.79,395.14 116.85,395.80 116.91,396.46 116.96,397.12 117.02,397.78 117.08,398.43 117.14,399.09 117.20,399.74 117.26,400.39 117.33,401.04 117.39,401.68 117.45,402.33 117.51,402.97 117.58,403.61 117.64,404.25 117.71,404.89 117.77,405.52 117.84,406.16 117.90,406.79 117.97,407.42 118.04,408.05 118.10,408.67 118.17,409.30 118.24,409.92 118.31,410.54 118.38,411.16 118.45,411.78 118.52,412.40 118.59,413.01 118.66,413.62 118.74,414.24 118.81,414.84 118.88,415.45 118.96,416.06 119.03,416.66 119.11,417.27 119.18,417.87 119.26,418.47 119.33,419.07 119.41,419.66 119.49,420.26 119.57,420.85 119.65,421.44 119.73,422.03 119.81,422.62 119.89,423.21 119.97,423.79 120.06,424.38 120.14,424.96 120.22,425.54 120.31,426.12 120.39,426.70 120.48,427.27 120.56,427.85 120.65,428.42 120.74,428.99 120.83,429.56 120.92,430.13 121.01,430.70 121.10,431.26 121.19,431.82 121.28,432.39 121.37,432.95 121.47,433.51 121.56,434.06 121.65,434.62 121.75,435.18 121.85,435.73 121.94,436.28 122.04,436.83 122.14,437.38 122.24,437.93 122.34,438.47 122.44,439.02 122.54,439.56 122.64,440.10 122.75,440.64 122.85,441.18 122.95,441.72 123.06,442.26 123.17,442.79 123.27,443.32 123.38,443.86 123.49,444.39 123.60,444.92 123.71,445.44 123.82,445.97 123.93,446.50 124.05,447.02 124.16,447.54 124.28,448.06 124.39,448.58 124.51,449.10 124.63,449.62 124.75,450.13 124.86,450.65 124.99,451.16 125.11,451.67 125.23,452.18 125.35,452.69 125.48,453.20 125.60,453.71 125.73,454.21 125.85,454.71 125.98,455.22 126.11,455.72 126.24,456.22 126.37,456.72 126.50,457.21 126.64,457.71 126.77,458.20 126.91,458.70 127.04,459.19 127.18,459.68 127.32,460.17 127.46,460.66 127.60,461.15 127.74,461.63 127.88,462.12 128.02,462.60 128.17,463.08 128.32,463.57 128.46,464.05 128.61,464.52 128.76,465.00 128.91,465.48 129.06,465.95 129.21,466.43 129.37,466.90 129.52,467.37 129.68,467.84 131.01,471.65 132.33,475.16 133.66,478.42 134.99,481.45 136.31,484.28 137.64,486.93 138.97,489.42 140.30,491.77 141.62,494.00 142.95,496.10 144.28,498.10 145.60,500.01 146.93,501.82 148.26,503.56 149.58,505.21 150.91,506.80 152.24,508.33 153.56,509.79 154.89,511.20 156.22,512.55 157.55,513.86 158.87,515.12 160.20,516.34 161.53,517.51 162.85,518.65 164.18,519.76 165.51,520.83 166.83,521.86 168.16,522.87 169.49,523.85 170.81,524.80 172.14,525.72 173.47,526.62 174.79,527.50 176.12,528.35 177.45,529.18 178.78,529.99 180.10,530.78 181.43,531.55 182.76,532.31 184.08,533.04 185.41,533.77 186.74,534.47 188.06,535.16 189.39,535.83 190.72,536.49 192.04,537.14 193.37,537.77 194.70,538.39 196.03,539.00 197.35,539.60 198.68,540.18 200.01,540.76 201.33,541.32 202.66,541.87 203.99,542.42 205.31,542.95 206.64,543.47 207.97,543.99 209.29,544.49 210.62,544.99 211.95,545.48 213.28,545.96 214.60,546.44 215.93,546.90 217.26,547.36 218.58,547.81 219.91,548.26 221.24,548.70 222.56,549.13 223.89,549.55 225.22,549.97 226.54,550.38 227.87,550.79 229.20,551.19 230.53,551.59 231.85,551.98 233.18,552.36 234.51,552.74 235.83,553.12 237.16,553.49 238.49,553.85 239.81,554.21 241.14,554.57 242.47,554.92 243.79,555.26 245.12,555.60 246.45,555.94 247.78,556.28 249.10,556.61 250.43,556.93 251.76,557.25 253.08,557.57 254.41,557.88 255.74,558.20 257.06,558.50 258.39,558.81 259.72,559.11 261.04,559.40 262.37,559.70 263.70,559.99 265.02,560.27 266.35,560.56 267.68,560.84 269.01,561.12 270.33,561.39 271.66,561.67 272.99,561.94 274.31,562.20 275.64,562.47 276.97,562.73 278.29,562.99 279.62,563.24 280.95,563.50 282.27,563.75 283.60,564.00 284.93,564.24 286.26,564.49 287.58,564.73 288.91,564.97 290.24,565.21 291.56,565.44 292.89,565.68 294.22,565.91 295.54,566.14 296.87,566.36 298.20,566.59 299.52,566.81 300.85,567.03 302.18,567.25 303.51,567.47 304.83,567.68 306.16,567.90 307.49,568.11 308.81,568.32 310.14,568.52 311.47,568.73 312.79,568.94 314.12,569.14 315.45,569.34 316.77,569.54 318.10,569.74 319.43,569.93 320.76,570.13 322.08,570.32 323.41,570.51 324.74,570.70 326.06,570.89 327.39,571.08 328.72,571.27 330.04,571.45 331.37,571.63 332.70,571.82 334.02,572.00 335.35,572.18 336.68,572.35 338.01,572.53 339.33,572.71 340.66,572.88 341.99,573.05 343.31,573.22 344.64,573.39 345.97,573.56 347.29,573.73 348.62,573.90 349.95,574.06 351.27,574.23 352.60,574.39 353.93,574.55 355.25,574.71 356.58,574.87 357.91,575.03 359.24,575.19 360.56,575.35 361.89,575.50 363.22,575.66 364.54,575.81 365.87,575.96 367.20,576.12 368.52,576.27 369.85,576.42 371.18,576.57 372.50,576.71 373.83,576.86 375.16,577.01 376.49,577.15 377.81,577.30 379.14,577.44 380.47,577.58 381.79,577.72 383.12,577.86 384.45,578.00 385.77,578.14 387.10,578.28 388.43,578.42 389.75,578.56 391.08,578.69 392.41,578.83 393.74,578.96 395.06,579.09 396.39,579.23 397.72,579.36 399.04,579.49 400.37,579.62 401.70,579.75 403.02,579.88 404.35,580.01 405.68,580.13 407.00,580.26 408.33,580.39 409.66,580.51 410.99,580.64 412.31,580.76 413.64,580.88 414.97,581.01 416.29,581.13 417.62,581.25 418.95,581.37 420.27,581.49 421.60,581.61 422.93,581.73 424.25,581.85 425.58,581.96 426.91,582.08 428.24,582.20 429.56,582.31 430.89,582.43 432.22,582.54 433.54,582.65 434.87,582.77 436.20,582.88 437.52,582.99 438.85,583.10 440.18,583.21 441.50,583.33 442.83,583.44 444.16,583.54 445.48,583.65 446.81,583.76 448.14,583.87 449.47,583.98 450.79,584.08 452.12,584.19 453.45,584.29 454.77,584.40 456.10,584.50 457.43,584.61 458.75,584.71 460.08,584.82 461.41,584.92 462.73,585.02 464.06,585.12 465.39,585.22 466.72,585.32 468.04,585.42 469.37,585.52 470.70,585.62 472.02,585.72 473.35,585.82 474.68,585.92 476.00,586.02 477.33,586.11 478.66,586.21 479.98,586.31 481.31,586.40 482.64,586.50 483.97,586.59 485.29,586.69 486.62,586.78 487.95,586.88 489.27,586.97 490.60,587.06 491.93,587.15 493.25,587.25 494.58,587.34 495.91,587.43 497.23,587.52 498.56,587.61 499.89,587.70 501.22,587.79 502.54,587.88 503.87,587.97 505.20,588.06 506.52,588.15 507.85,588.23 509.18,588.32 510.50,588.41 511.83,588.50 513.16,588.58 514.48,588.67 515.81,588.75 517.14,588.84 518.47,588.92 519.79,589.01 521.12,589.09 522.45,589.18 523.77,589.26 525.10,589.35 526.43,589.43 527.75,589.51 529.08,589.59 530.41,589.68 531.73,589.76 533.06,589.84 534.39,589.92 535.71,590.00 537.04,590.08 538.37,590.16 539.70,590.24 541.02,590.32 542.35,590.40 543.68,590.48 545.00,590.56 546.33,590.64 547.66,590.71 548.98,590.79 550.31,590.87 551.64,590.95 552.96,591.02 554.29,591.10 555.62,591.18 556.95,591.25 558.27,591.33 559.60,591.40 560.93,591.48 562.25,591.55 563.58,591.63 564.91,591.70 566.23,591.78 567.56,591.85 568.89,591.92 570.21,592.00 571.54,592.07 572.87,592.14 574.20,592.22 575.52,592.29 576.85,592.36 578.18,592.43 579.50,592.50 580.83,592.58 582.16,592.65 583.48,592.72 584.81,592.79 586.14,592.86 587.46,592.93 588.79,593.00 590.12,593.07 591.45,593.14 592.77,593.21 594.10,593.28 595.43,593.34 596.75,593.41 598.08,593.48 599.41,593.55 600.73,593.62 602.06,593.68 603.39,593.75 604.71,593.82 606.04,593.88 607.37,593.95 608.70,594.02 610.02,594.08 611.35,594.15 612.68,594.22 614.00,594.28 615.33,594.35 616.66,594.41 617.98,594.48 619.31,594.54 620.64,594.61 621.96,594.67 623.29,594.73 624.62,594.80 625.94,594.86 627.27,594.92 628.60,594.99 629.93,595.05 631.25,595.11 632.58,595.18 633.91,595.24 635.23,595.30 636.56,595.36 637.89,595.43 639.21,595.49 640.54,595.55 641.87,595.61 643.19,595.67 644.52,595.73 645.85,595.79 647.18,595.85 648.50,595.91 649.83,595.97 651.16,596.03 652.48,596.09 653.81,596.15 655.14,596.21 656.46,596.27 657.79,596.33 659.12,596.39 660.44,596.45 661.77,596.51 663.10,596.57 664.43,596.62 665.75,596.68 667.08,596.74 668.41,596.80 669.73,596.85 671.06,596.91 672.39,596.97 673.71,597.03 675.04,597.08 676.37,597.14 677.69,597.20 679.02,597.25 680.35,597.31 681.68,597.37 683.00,597.42 684.33,597.48 685.66,597.53 686.98,597.59 688.31,597.64 689.64,597.70 690.96,597.75 692.29,597.81 693.62,597.86 694.94,597.92 696.27,597.97 697.60,598.03 698.93,598.08 700.25,598.13 701.58,598.19 702.91,598.24 704.23,598.29 705.56,598.35 706.89,598.40 708.21,598.45 709.54,598.51 710.87,598.56 712.19,598.61 713.52,598.66 714.85,598.72 716.17,598.77 717.50,598.82 718.83,598.87 720.16,598.92 721.48,598.98 722.81,599.03 724.14,599.08 725.46,599.13 726.79,599.18 728.12,599.23 729.44,599.28 730.77,599.33 732.10,599.38 733.42,599.43 734.75,599.48 736.08,599.53 737.41,599.58 738.73,599.63 740.06,599.68 741.39,599.73 742.71,599.78 744.04,599.83 745.37,599.88 746.69,599.93 748.02,599.98 749.35,600.03 750.67,600.08 752.00,600.12 753.33,600.17 754.66,600.22 755.98,600.27 757.31,600.32 758.64,600.37 759.96,600.41 761.29,600.46 762.62,600.51 763.94,600.56 765.27,600.60 766.60,600.65 767.92,600.70 769.25,600.74 770.58,600.79 771.91,600.84 773.23,600.88 774.56,600.93 775.89,600.98 777.21,601.02 778.54,601.07 779.87,601.12 781.19,601.16 782.52,601.21 783.85,601.25 785.17,601.30 786.50,601.34 787.83,601.39 789.16,601.44 790.48,601.48 791.81,601.53 793.14,601.57 794.46,601.62 795.79,601.66 797.12,601.70 798.44,601.75 799.77,601.79 801.10,601.84 802.42,601.88 803.75,601.93 805.08,601.97 806.40,602.01 807.73,602.06 809.06,602.10 810.39,602.15 811.71,602.19 813.04,602.23 814.37,602.28 815.69,602.32 817.02,602.36 818.35,602.40 819.67,602.45 821.00,602.49 822.33,602.53 823.65,602.58 824.98,602.62 826.31,602.66 827.64,602.70 828.96,602.74 830.29,602.79 831.62,602.83 832.94,602.87 834.27,602.91 835.60,602.95 836.92,603.00 838.25,603.04 839.58,603.08 840.90,603.12 842.23,603.16 843.56,603.20 844.89,603.24 846.21,603.29 847.54,603.33 848.87,603.37 850.19,603.41 851.52,603.45 852.85,603.49 854.17,603.53 855.50,603.57 856.83,603.61 858.15,603.65 859.48,603.69 860.81,603.73 862.14,603.77 863.46,603.81 864.79,603.85 866.12,603.89 867.44,603.93 868.77,603.97 870.10,604.01 871.42,604.05 872.75,604.09 874.08,604.13 875.40,604.16 876.73,604.20 878.06,604.24 879.39,604.28 880.71,604.32 882.04,604.36 883.37,604.40 884.69,604.44 886.02,604.47 887.35,604.51 888.67,604.55 890.00,604.59 891.33,604.63 892.65,604.66 893.98,604.70 895.31,604.74 896.63,604.78 897.96,604.82 899.29,604.85 900.62,604.89 901.94,604.93 903.27,604.97 904.60,605.00 905.92,605.04 907.25,605.08 908.58,605.11 909.90,605.15 911.23,605.19 912.56,605.23 913.88,605.26 915.21,605.30 916.54,605.34 917.87,605.37 919.19,605.41 920.52,605.45 921.85,605.48 923.17,605.52 924.50,605.55" fill="none" stroke="#000" stroke-width="4.8" stroke-linejoin="round" stroke-dasharray="19.23 19.23" stroke-dashoffset="-0.19"/>
<polyline clip-path="url(#ax)" points="111.34,42.55 111.35,44.42 111.37,46.28 111.39,48.13 111.40,49.98 111.42,51.82 111.43,53.65 111.45,55.48 111.47,57.29 111.48,59.11 111.50,60.91 111.52,62.71 111.54,64.49 111.55,66.28 111.57,68.05 111.59,69.82 111.61,71.58 111.62,73.34 111.64,75.09 111.66,76.83 111.68,78.56 111.70,80.29 111.71,82.01 111.73,83.72 111.75,85.43 111.77,87.13 111.79,88.83 111.81,90.52 111.83,92.20 111.85,93.87 111.87,95.54 111.89,97.20 111.91,98.86 111.93,100.51 111.95,102.15 111.97,103.79 111.99,105.42 112.01,107.05 112.03,108.67 112.05,110.28 112.07,111.89 112.09,113.49 112.12,115.08 112.14,116.67 112.16,118.25 112.18,119.83 112.20,121.40 112.23,122.96 112.25,124.52 112.27,126.08 112.30,127.62 112.32,129.17 112.34,130.70 112.37,132.23 112.39,133.76 112.41,135.28 112.44,136.79 112.46,138.30 112.49,139.80 112.51,141.30 112.53,142.79 112.56,144.27 112.59,145.75 112.61,147.23 112.64,148.70 112.66,150.16 112.69,151.62 112.71,153.07 112.74,154.52 112.77,155.96 112.79,157.40 112.82,158.83 112.85,160.26 112.88,161.68 112.90,163.10 112.93,164.51 112.96,165.92 112.99,167.32 113.02,168.71 113.04,170.10 113.07,171.49 113.10,172.87 113.13,174.25 113.16,175.62 113.19,176.99 113.22,178.35 113.25,179.71 113.28,181.06 113.31,182.40 113.34,183.75 113.38,185.08 113.41,186.42 113.44,187.75 113.47,189.07 113.50,190.39 113.54,191.70 113.57,193.01 113.60,194.32 113.63,195.62 113.67,196.91 113.70,198.20 113.74,199.49 113.77,200.77 113.80,202.05 113.84,203.32 113.87,204.59 113.91,205.86 113.95,207.12 113.98,208.37 114.02,209.62 114.05,210.87 114.09,212.11 114.13,213.35 114.17,214.58 114.20,215.81 114.24,217.04 114.28,218.26 114.32,219.48 114.36,220.69 114.40,221.90 114.44,223.10 114.47,224.30 114.51,225.50 114.56,226.69 114.60,227.88 114.64,229.07 114.68,230.25 114.72,231.42 114.76,232.59 114.80,233.76 114.85,234.93 114.89,236.09 114.93,237.24 114.98,238.39 115.02,239.54 115.06,240.69 115.11,241.83 115.15,242.96 115.20,244.10 115.24,245.23 115.29,246.35 115.34,247.47 115.38,248.59 115.43,249.71 115.48,250.82 115.53,251.92 115.57,253.03 115.62,254.13 115.67,255.22 115.72,256.31 115.77,257.40 115.82,258.49 115.87,259.57 115.92,260.65 115.97,261.72 116.02,262.79 116.08,263.86 116.13,264.92 116.18,265.98 116.23,267.04 116.29,268.09 116.34,269.14 116.40,270.19 116.45,271.23 116.51,272.27 116.56,273.31 116.62,274.34 116.67,275.37 116.73,276.40 116.79,277.42 116.85,278.44 116.91,279.45 116.96,280.47 117.02,281.48 117.08,282.48 117.14,283.48 117.20,284.48 117.26,285.48 117.33,286.47 117.39,287.46 117.45,288.45 117.51,289.44 117.58,290.42 117.64,291.39 117.71,292.37 117.77,293.34 117.84,294.31 117.90,295.27 117.97,296.23 118.04,297.19 118.10,298.15 118.17,299.10 118.24,300.05 118.31,301.00 118.38,301.94 118.45,302.88 118.52,303.82 118.59,304.76 118.66,305.69 118.74,306.62 118.81,307.54 118.88,308.47 118.96,309.39 119.03,310.30 119.11,311.22 119.18,312.13 119.26,313.04 119.33,313.95 119.41,314.85 119.49,315.75 119.57,316.65 119.65,317.54 119.73,318.43 119.81,319.32 119.89,320.21 119.97,321.09 120.06,321.98 120.14,322.85 120.22,323.73 120.31,324.60 120.39,325.47 120.48,326.34 120.56,327.20 120.65,328.07 120.74,328.93 120.83,329.78 120.92,330.64 121.01,331.49 121.10,332.34 121.19,333.19 121.28,334.03 121.37,334.87 121.47,335.71 121.56,336.55 121.65,337.38 121.75,338.21 121.85,339.04 121.94,339.87 122.04,340.69 122.14,341.51 122.24,342.33 122.34,343.15 122.44,343.96 122.54,344.77 122.64,345.58 122.75,346.39 122.85,347.19 122.95,347.99 123.06,348.79 123.17,349.59 123.27,350.38 123.38,351.18 123.49,351.97 123.60,352.75 123.71,353.54 123.82,354.32 123.93,355.10 124.05,355.88 124.16,356.66 124.28,357.43 124.39,358.20 124.51,358.97 124.63,359.74 124.75,360.50 124.86,361.26 124.99,362.02 125.11,362.78 125.23,363.54 125.35,364.29 125.48,365.04 125.60,365.79 125.73,366.54 125.85,367.28 125.98,368.02 126.11,368.76 126.24,369.50 126.37,370.24 126.50,370.97 126.64,371.70 126.77,372.43 126.91,373.16 127.04,373.88 127.18,374.61 127.32,375.33 127.46,376.05 127.60,376.76 127.74,377.48 127.88,378.19 128.02,378.90 128.17,379.61 128.32,380.32 128.46,381.02 128.61,381.73 128.76,382.43 128.91,383.13 129.06,383.82 129.21,384.52 129.37,385.21 129.52,385.90 129.68,386.59 131.01,392.16 132.33,397.28 133.66,402.01 134.99,406.41 136.31,410.50 137.64,414.33 138.97,417.93 140.30,421.32 141.62,424.51 142.95,427.53 144.28,430.40 145.60,433.12 146.93,435.71 148.26,438.19 149.58,440.55 150.91,442.81 152.24,444.97 153.56,447.05 154.89,449.05 156.22,450.97 157.55,452.81 158.87,454.60 160.20,456.31 161.53,457.98 162.85,459.58 164.18,461.13 165.51,462.64 166.83,464.10 168.16,465.51 169.49,466.88 170.81,468.21 172.14,469.51 173.47,470.77 174.79,471.99 176.12,473.19 177.45,474.35 178.78,475.48 180.10,476.58 181.43,477.66 182.76,478.71 184.08,479.74 185.41,480.74 186.74,481.72 188.06,482.68 189.39,483.62 190.72,484.53 192.04,485.43 193.37,486.31 194.70,487.17 196.03,488.01 197.35,488.84 198.68,489.65 200.01,490.44 201.33,491.22 202.66,491.99 203.99,492.74 205.31,493.48 206.64,494.20 207.97,494.91 209.29,495.61 210.62,496.30 211.95,496.97 213.28,497.64 214.60,498.29 215.93,498.93 217.26,499.56 218.58,500.18 219.91,500.79 221.24,501.40 222.56,501.99 223.89,502.57 225.22,503.15 226.54,503.72 227.87,504.27 229.20,504.82 230.53,505.37 231.85,505.90 233.18,506.43 234.51,506.95 235.83,507.46 237.16,507.97 238.49,508.47 239.81,508.96 241.14,509.45 242.47,509.92 243.79,510.40 245.12,510.87 246.45,511.33 247.78,511.78 249.10,512.23 250.43,512.68 251.76,513.12 253.08,513.55 254.41,513.98 255.74,514.40 257.06,514.82 258.39,515.24 259.72,515.65 261.04,516.05 262.37,516.45 263.70,516.85 265.02,517.24 266.35,517.62 267.68,518.01 269.01,518.38 270.33,518.76 271.66,519.13 272.99,519.50 274.31,519.86 275.64,520.22 276.97,520.57 278.29,520.92 279.62,521.27 280.95,521.62 282.27,521.96 283.60,522.30 284.93,522.63 286.26,522.96 287.58,523.29 288.91,523.62 290.24,523.94 291.56,524.26 292.89,524.57 294.22,524.88 295.54,525.19 296.87,525.50 298.20,525.81 299.52,526.11 300.85,526.41 302.18,526.70 303.51,527.00 304.83,527.29 306.16,527.58 307.49,527.86 308.81,528.15 310.14,528.43 311.47,528.71 312.79,528.98 314.12,529.26 315.45,529.53 316.77,529.80 318.10,530.07 319.43,530.33 320.76,530.59 322.08,530.85 323.41,531.11 324.74,531.37 326.06,531.63 327.39,531.88 328.72,532.13 330.04,532.38 331.37,532.62 332.70,532.87 334.02,533.11 335.35,533.35 336.68,533.59 338.01,533.83 339.33,534.07 340.66,534.30 341.99,534.53 343.31,534.77 344.64,534.99 345.97,535.22 347.29,535.45 348.62,535.67 349.95,535.90 351.27,536.12 352.60,536.34 353.93,536.55 355.25,536.77 356.58,536.99 357.91,537.20 359.24,537.41 360.56,537.62 361.89,537.83 363.22,538.04 364.54,538.25 365.87,538.45 367.20,538.65 368.52,538.86 369.85,539.06 371.18,539.26 372.50,539.46 373.83,539.65 375.16,539.85 376.49,540.04 377.81,540.24 379.14,540.43 380.47,540.62 381.79,540.81 383.12,541.00 384.45,541.19 385.77,541.37 387.10,541.56 388.43,541.74 389.75,541.92 391.08,542.11 392.41,542.29 393.74,542.47 395.06,542.65 396.39,542.82 397.72,543.00 399.04,543.17 400.37,543.35 401.70,543.52 403.02,543.69 404.35,543.87 405.68,544.04 407.00,544.21 408.33,544.37 409.66,544.54 410.99,544.71 412.31,544.87 413.64,545.04 414.97,545.20 416.29,545.37 417.62,545.53 418.95,545.69 420.27,545.85 421.60,546.01 422.93,546.17 424.25,546.32 425.58,546.48 426.91,546.64 428.24,546.79 429.56,546.95 430.89,547.10 432.22,547.25 433.54,547.41 434.87,547.56 436.20,547.71 437.52,547.86 438.85,548.00 440.18,548.15 441.50,548.30 442.83,548.45 444.16,548.59 445.48,548.74 446.81,548.88 448.14,549.03 449.47,549.17 450.79,549.31 452.12,549.45 453.45,549.59 454.77,549.73 456.10,549.87 457.43,550.01 458.75,550.15 460.08,550.29 461.41,550.42 462.73,550.56 464.06,550.69 465.39,550.83 466.72,550.96 468.04,551.10 469.37,551.23 470.70,551.36 472.02,551.49 473.35,551.62 474.68,551.76 476.00,551.89 477.33,552.01 478.66,552.14 479.98,552.27 481.31,552.40 482.64,552.53 483.97,552.65 485.29,552.78 486.62,552.90 487.95,553.03 489.27,553.15 490.60,553.27 491.93,553.40 493.25,553.52 494.58,553.64 495.91,553.76 497.23,553.88 498.56,554.00 499.89,554.12 501.22,554.24 502.54,554.36 503.87,554.48 505.20,554.60 506.52,554.72 507.85,554.83 509.18,554.95 510.50,555.06 511.83,555.18 513.16,555.29 514.48,555.41 515.81,555.52 517.14,555.64 518.47,555.75 519.79,555.86 521.12,555.97 522.45,556.09 523.77,556.20 525.10,556.31 526.43,556.42 527.75,556.53 529.08,556.64 530.41,556.74 531.73,556.85 533.06,556.96 534.39,557.07 535.71,557.18 537.04,557.28 538.37,557.39 539.70,557.49 541.02,557.60 542.35,557.71 543.68,557.81 545.00,557.91 546.33,558.02 547.66,558.12 548.98,558.22 550.31,558.33 551.64,558.43 552.96,558.53 554.29,558.63 555.62,558.73 556.95,558.83 558.27,558.94 559.60,559.04 560.93,559.13 562.25,559.23 563.58,559.33 564.91,559.43 566.23,559.53 567.56,559.63 568.89,559.72 570.21,559.82 571.54,559.92 572.87,560.01 574.20,560.11 575.52,560.21 576.85,560.30 578.18,560.40 579.50,560.49 580.83,560.59 582.16,560.68 583.48,560.77 584.81,560.87 586.14,560.96 587.46,561.05 588.79,561.14 590.12,561.24 591.45,561.33 592.77,561.42 594.10,561.51 595.43,561.60 596.75,561.69 598.08,561.78 599.41,561.87 600.73,561.96 602.06,562.05 603.39,562.14 604.71,562.23 606.04,562.32 607.37,562.40 608.70,562.49 610.02,562.58 611.35,562.67 612.68,562.75 614.00,562.84 615.33,562.93 616.66,563.01 617.98,563.10 619.31,563.18 620.64,563.27 621.96,563.35 623.29,563.44 624.62,563.52 625.94,563.61 627.27,563.69 628.60,563.77 629.93,563.86 631.25,563.94 632.58,564.02 633.91,564.10 635.23,564.19 636.56,564.27 637.89,564.35 639.21,564.43 640.54,564.51 641.87,564.59 643.19,564.67 644.52,564.75 645.85,564.83 647.18,564.91 648.50,564.99 649.83,565.07 651.16,565.15 652.48,565.23 653.81,565.31 655.14,565.39 656.46,565.46 657.79,565.54 659.12,565.62 660.44,565.70 661.77,565.77 663.10,565.85 664.43,565.93 665.75,566.00 667.08,566.08 668.41,566.16 669.73,566.23 671.06,566.31 672.39,566.38 673.71,566.46 675.04,566.53 676.37,566.61 677.69,566.68 679.02,566.76 680.35,566.83 681.68,566.90 683.00,566.98 684.33,567.05 685.66,567.12 686.98,567.20 688.31,567.27 689.64,567.34 690.96,567.42 692.29,567.49 693.62,567.56 694.94,567.63 696.27,567.70 697.60,567.77 698.93,567.84 700.25,567.92 701.58,567.99 702.91,568.06 704.23,568.13 705.56,568.20 706.89,568.27 708.21,568.34 709.54,568.41 710.87,568.48 712.19,568.54 713.52,568.61 714.85,568.68 716.17,568.75 717.50,568.82 718.83,568.89 720.16,568.95 721.48,569.02 722.81,569.09 724.14,569.16 725.46,569.22 726.79,569.29 728.12,569.36 729.44,569.43 730.77,569.49 732.10,569.56 733.42,569.62 734.75,569.69 736.08,569.76 737.41,569.82 738.73,569.89 740.06,569.95 741.39,570.02 742.71,570.08 744.04,570.15 745.37,570.21 746.69,570.28 748.02,570.34 749.35,570.40 750.67,570.47 752.00,570.53 753.33,570.60 754.66,570.66 755.98,570.72 757.31,570.79 758.64,570.85 759.96,570.91 761.29,570.97 762.62,571.04 763.94,571.10 765.27,571.16 766.60,571.22 767.92,571.28 769.25,571.35 770.58,571.41 771.91,571.47 773.23,571.53 774.56,571.59 775.89,571.65 777.21,571.71 778.54,571.77 779.87,571.83 781.19,571.89 782.52,571.95 783.85,572.01 785.17,572.07 786.50,572.13 787.83,572.19 789.16,572.25 790.48,572.31 791.81,572.37 793.14,572.43 794.46,572.49 795.79,572.55 797.12,572.61 798.44,572.66 799.77,572.72 801.10,572.78 802.42,572.84 803.75,572.90 805.08,572.95 806.40,573.01 807.73,573.07 809.06,573.13 810.39,573.18 811.71,573.24 813.04,573.30 814.37,573.35 815.69,573.41 817.02,573.47 818.35,573.52 819.67,573.58 821.00,573.64 822.33,573.69 823.65,573.75 824.98,573.80 826.31,573.86 827.64,573.91 828.96,573.97 830.29,574.02 831.62,574.08 832.94,574.13 834.27,574.19 835.60,574.24 836.92,574.30 838.25,574.35 839.58,574.41 840.90,574.46 842.23,574.51 843.56,574.57 844.89,574.62 846.21,574.68 847.54,574.73 848.87,574.78 850.19,574.84 851.52,574.89 852.85,574.94 854.17,575.00 855.50,575.05 856.83,575.10 858.15,575.15 859.48,575.21 860.81,575.26 862.14,575.31 863.46,575.36 864.79,575.41 866.12,575.47 867.44,575.52 868.77,575.57 870.10,575.62 871.42,575.67 872.75,575.72 874.08,575.78 875.40,575.83 876.73,575.88 878.06,575.93 879.39,575.98 880.71,576.03 882.04,576.08 883.37,576.13 884.69,576.18 886.02,576.23 887.35,576.28 888.67,576.33 890.00,576.38 891.33,576.43 892.65,576.48 893.98,576.53 895.31,576.58 896.63,576.63 897.96,576.68 899.29,576.73 900.62,576.78 901.94,576.83 903.27,576.87 904.60,576.92 905.92,576.97 907.25,577.02 908.58,577.07 909.90,577.12 911.23,577.17 912.56,577.21 913.88,577.26 915.21,577.31 916.54,577.36 917.87,577.41 919.19,577.45 920.52,577.50 921.85,577.55 923.17,577.60 924.50,577.64" fill="none" stroke="#000" stroke-width="4.8" stroke-linejoin="round" stroke-dasharray="19.0 4.97 9.6 4.9" stroke-dashoffset="0.07"/>
<path d="M109.70 677.40v-8.3M109.70 40.50v8.3M313.10 677.40v-8.3M313.10 40.50v8.3M516.90 677.40v-8.3M516.90 40.50v8.3M720.70 677.40v-8.3M720.70 40.50v8.3M924.00 677.40v-8.3M924.00 40.50v8.3M109.70 677.40h8.3M924.00 677.40h-8.3M109.70 607.01h8.3M924.00 607.01h-8.3M109.70 536.12h8.3M924.00 536.12h-8.3M109.70 465.23h8.3M924.00 465.23h-8.3M109.70 394.34h8.3M924.00 394.34h-8.3M109.70 323.46h8.3M924.00 323.46h-8.3M109.70 252.57h8.3M924.00 252.57h-8.3M109.70 181.68h8.3M924.00 181.68h-8.3M109.70 110.79h8.3M924.00 110.79h-8.3M109.70 40.50h8.3M924.00 40.50h-8.3" stroke="#3a3a3a" stroke-width="1.25" fill="none"/>
<rect x="109.7" y="40.5" width="814.30" height="636.90" fill="none" stroke="#3a3a3a" stroke-width="1.25"/>
<g font-family="Liberation Sans, Arial, sans-serif" font-size="30" fill="#1a1a1a">
<text transform="translate(109.30,719.3) scale(1,1.035)" text-anchor="middle">0</text>
<text transform="translate(312.70,719.3) scale(1,1.035)" text-anchor="middle">50</text>
<text transform="translate(516.50,719.3) scale(1,1.035)" text-anchor="middle">100</text>
<text transform="translate(720.30,719.3) scale(1,1.035)" text-anchor="middle">150</text>
<text transform="translate(923.60,719.3) scale(1,1.035)" text-anchor="middle">200</text>
<text transform="translate(98.3,689.70) scale(1,1.035)" text-anchor="end">0.5</text>
<text transform="translate(98.3,619.31) scale(1,1.035)" text-anchor="end">1</text>
<text transform="translate(98.3,548.42) scale(1,1.035)" text-anchor="end">1.5</text>
<text transform="translate(98.3,477.53) scale(1,1.035)" text-anchor="end">2</text>
<text transform="translate(98.3,406.64) scale(1,1.035)" text-anchor="end">2.5</text>
<text transform="translate(98.3,335.76) scale(1,1.035)" text-anchor="end">3</text>
<text transform="translate(98.3,264.87) scale(1,1.035)" text-anchor="end">3.5</text>
<text transform="translate(98.3,193.98) scale(1,1.035)" text-anchor="end">4</text>
<text transform="translate(98.3,123.09) scale(1,1.035)" text-anchor="end">4.5</text>
<text transform="translate(98.3,52.80) scale(1,1.035)" text-anchor="end">5</text>
<text x="108.8" y="34.8" font-size="29" font-family="DejaVu Sans, sans-serif" font-weight="200">×</text>
<text transform="translate(132.2,33.8) scale(1,1.035)">10</text>
<text x="166.9" y="18.2" font-size="22">-</text>
<text x="174.6" y="19.2" font-size="22.6">3</text>
</g>
<text x="398.3" y="761.6" font-family="Liberation Sans, Arial, sans-serif" font-size="33" fill="#1a1a1a">Water depth (m)</text>
<text transform="translate(26.2,498.1) rotate(-90)" font-family="Liberation Sans, Arial, sans-serif" font-size="33" fill="#1a1a1a">C<tspan font-size="23" dy="15.9">d</tspan><tspan dy="-15.9" dx="2.6"> (dimensionless)</tspan></text>
<rect x="658.8" y="59.9" width="245.00" height="152.00" fill="#fff" stroke="#3a3a3a" stroke-width="1.25"/>
<path d="M666 81.4H740.3" stroke="#000" stroke-width="4.8" fill="none"/>
<text x="746.9" y="91.5" font-family="Liberation Sans, Arial, sans-serif" font-size="27" fill="#000">z0=0.05 mm</text>
<path d="M666 117.9H740.3" stroke="#000" stroke-width="4.8" fill="none" stroke-dasharray="4.8 4.87"/>
<text x="746.9" y="128.6" font-family="Liberation Sans, Arial, sans-serif" font-size="27" fill="#000">z0=0.15 mm</text>
<path d="M666 154.0H740.3" stroke="#000" stroke-width="4.8" fill="none" stroke-dasharray="19.6 19.5"/>
<text x="746.9" y="164.7" font-family="Liberation Sans, Arial, sans-serif" font-size="27" fill="#000">z0=0.5 mm</text>
<path d="M666 190.5H740.3" stroke="#000" stroke-width="4.8" fill="none" stroke-dasharray="19.6 5 9.5 5"/>
<text x="746.9" y="201.8" font-family="Liberation Sans, Arial, sans-serif" font-size="27" fill="#000">z0=1.5 mm</text>
</svg>
</body></html>
